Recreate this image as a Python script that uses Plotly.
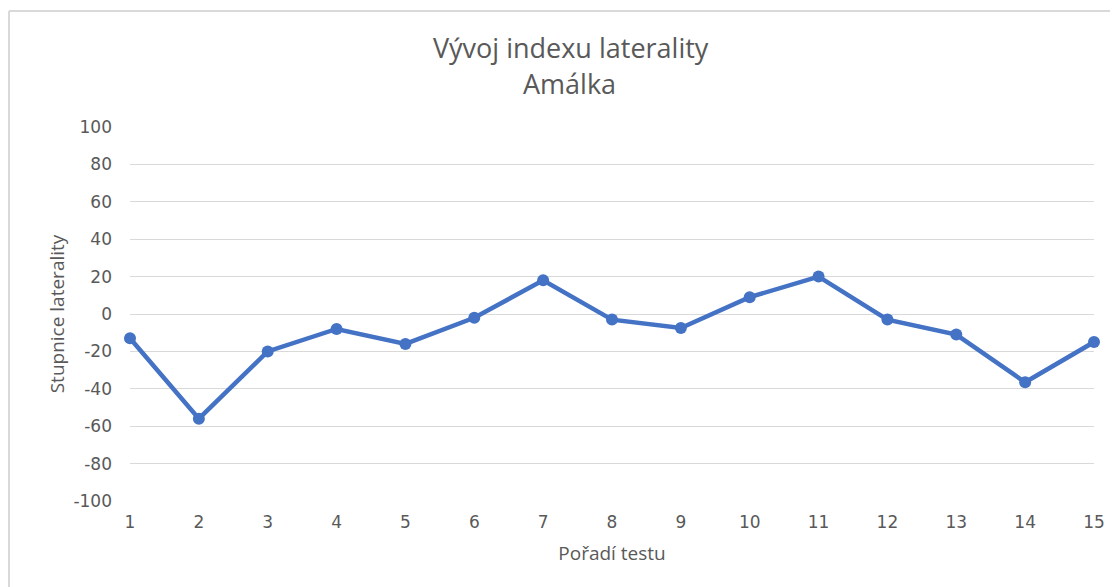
import plotly.graph_objects as go

tests = list(range(1, 16))
lateralita = [-13, -56, -20, -8, -16, -2, 18, -3, -7.5, 9, 20, -3, -11, -36.5, -15]
y_ticks = list(range(-100, 101, 20))

# the page has an 8px body margin; the figure is sized/placed to compensate
OFF = 8
W, H = 1118 - OFF, 587 - OFF
L, R, T, B = 130 - OFF, 24, 127 - OFF, 86
pw, ph = W - L - R, H - T - B

def px(x):
    return (x - OFF - L) / pw

def py(y):
    return (H - B - (y - OFF)) / ph

grey = "#595959"
font = "Open Sans"
tickfont = "DejaVu Sans"

fig = go.Figure()
fig.add_trace(go.Scatter(
    x=tests, y=lateralita, mode="lines+markers",
    line=dict(color="#4472C4", width=4.5),
    marker=dict(color="#4472C4", size=12),
    showlegend=False, cliponaxis=False,
))

fig.update_layout(
    width=W, height=H,
    margin=dict(l=L, r=R, t=T, b=B, pad=0),
    paper_bgcolor="white", plot_bgcolor="white",
    font=dict(family=font, color=grey),
    xaxis=dict(
        range=[1, 15], tickvals=tests, ticktext=[str(t) for t in tests],
        showgrid=False, zeroline=False, showline=False,
        tickfont=dict(size=17, color=grey, family=tickfont), ticks="", ticklabelstandoff=9,
        title=dict(text="Pořadí testu", font=dict(size=19, color=grey), standoff=15),
    ),
    yaxis=dict(
        range=[-100, 100], tickvals=y_ticks, ticktext=[str(t) for t in y_ticks],
        showgrid=True, gridcolor="#d9d9d9", gridwidth=1.3,
        zeroline=False, showline=False,
        tickfont=dict(size=17, color=grey, family=tickfont), ticks="", ticklabelstandoff=17,
        title=dict(text="Stupnice laterality", font=dict(size=19, color=grey), standoff=3),
    ),
    shapes=[
        dict(type="line", xref="paper", yref="paper", x0=px(9), x1=px(1140), y0=py(11), y1=py(11),
             line=dict(color="#d9d9d9", width=2)),
        dict(type="line", xref="paper", yref="paper", x0=px(9), x1=px(9), y0=py(11), y1=py(620),
             line=dict(color="#d9d9d9", width=2)),
    ],
    annotations=[
        dict(text="Vývoj indexu laterality", xref="paper", yref="paper", x=px(571), y=py(47),
             showarrow=False, font=dict(size=27, color=grey, family=font), xanchor="center", yanchor="middle"),
        dict(text="Amálka", xref="paper", yref="paper", x=px(569), y=py(83),
             showarrow=False, font=dict(size=27, color=grey, family=font), xanchor="center", yanchor="middle"),
    ],
)

fig.write_html("out.html")
